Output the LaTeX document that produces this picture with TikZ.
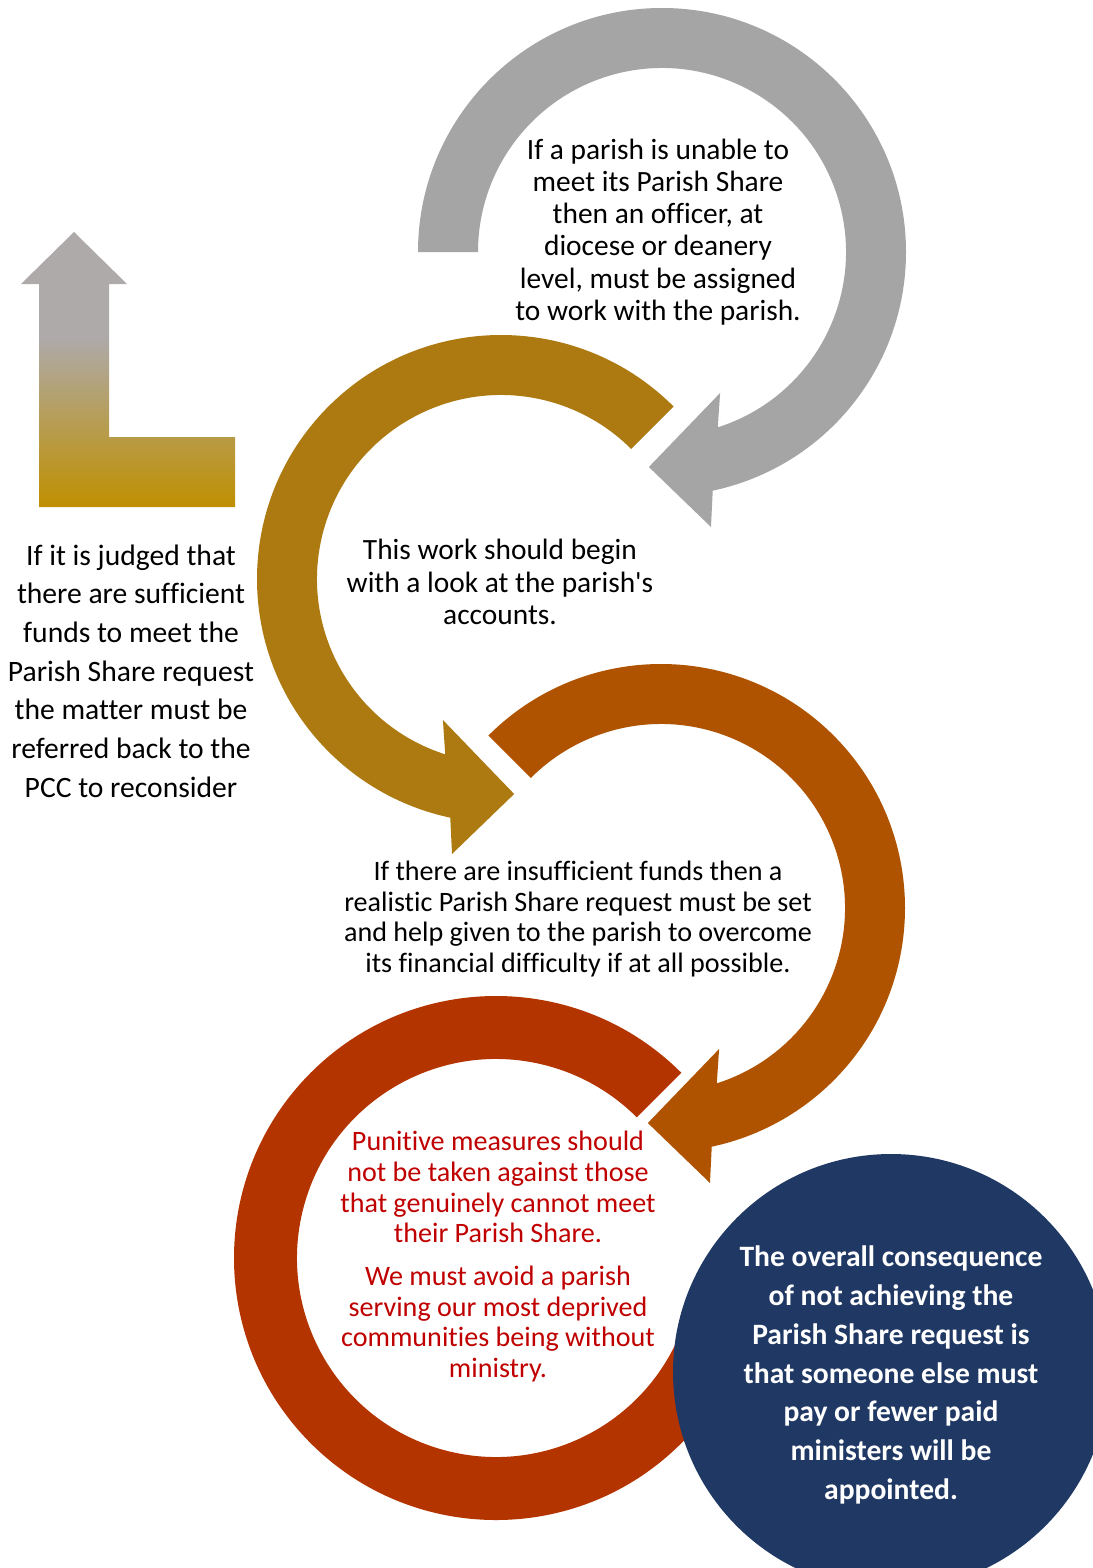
\documentclass[tikz,border=0pt]{standalone}
\usepackage{fontspec}
\setmainfont[Ligatures=NoCommon]{Carlito}
\usetikzlibrary{calc}
\definecolor{grayc}{RGB}{165,165,165}
\definecolor{goldc}{RGB}{173,122,17}
\definecolor{orangec}{RGB}{175,83,0}
\definecolor{redc}{RGB}{180,52,0}
\definecolor{bluec}{RGB}{32,56,100}
\definecolor{redtext}{RGB}{192,0,0}
\definecolor{lgray}{RGB}{174,170,170}
\definecolor{lgold}{RGB}{191,144,0}
\pgfdeclareverticalshading{lgrad}{100bp}{color(0bp)=(lgold); color(25bp)=(lgold); color(56bp)=(lgray); color(100bp)=(lgray)}
\begin{document}
\begin{tikzpicture}[x=0.5pt,y=-0.5pt,
  txt/.style={align=center, inner sep=0pt, text=black},
  fa/.style={font=\fontsize{14.7}{16.1}\selectfont},
  fb/.style={font=\fontsize{14.8}{19.35}\selectfont},
  fc/.style={font=\fontsize{14.05}{15.35}\selectfont},
  fd/.style={font=\fontsize{14.8}{19.35}\selectfont\bfseries}]
\fill[white] (0,0) rectangle (1092,1568);
\useasboundingbox (0,0) rectangle (1092,1568);
% centres
\coordinate (G) at (662,252);
\coordinate (D) at (501,579);
\coordinate (O) at (661,908);
\coordinate (Rc) at (496,1258);
% grey circular arrow
\fill[grayc] ($(G)+(180:244)$) arc[start angle=180, end angle=438, radius=244]
  -- ($(G)+(79.9:279.3)$) -- ($(G)+(93.5:215.4)$) -- ($(G)+(67.6:152.5)$)
  -- ($(G)+(72.35:184)$) arc[start angle=432.35, end angle=180, radius=184] -- cycle;
% gold circular arrow
\fill[goldc] ($(D)+(-45:244)$) arc[start angle=-45, end angle=-258, radius=244]
  -- ($(D)+(100.1:279.3)$) -- ($(D)+(86.5:215.4)$) -- ($(D)+(112.4:152.5)$)
  -- ($(D)+(107.65:184)$) arc[start angle=-252.35, end angle=-45, radius=184] -- cycle;
% orange circular arrow
\fill[orangec] ($(O)+(-135:244)$) arc[start angle=-135, end angle=78, radius=244]
  -- ($(O)+(79.9:279.3)$) -- ($(O)+(93.5:215.4)$) -- ($(O)+(67.6:152.5)$)
  -- ($(O)+(72.35:184)$) arc[start angle=72.35, end angle=-135, radius=184] -- cycle;
% red block arc (its far end lies under the blue circle)
\fill[redc] ($(Rc)+(-45:262)$) arc[start angle=-45, end angle=-345, radius=262]
  -- ($(Rc)+(15:199)$) arc[start angle=-345, end angle=-45, radius=199] -- cycle;
% blue circle
\fill[bluec] (891,1372) circle[radius=218];
% L arrow
\shade[shading=lgrad] (74,232) -- (127,284) -- (109,284) -- (109,437) -- (235,437)
  -- (235,507) -- (39,507) -- (39,284) -- (21,284) -- cycle;
% texts
\node[txt,fa] (t1) at (658,232) {If a parish is unable to\\meet its Parish Share\\then an officer, at\\diocese or deanery\\level, must be assigned\\to work with the parish.};
\node[txt,fb] (t2) at (131,671) {If it is judged that\\there are sufficient\\funds to meet the\\Parish Share request\\the matter must be\\referred back to the\\PCC to reconsider};
\node[txt,fa] (t3) at (500,582) {This work should begin\\with a look at the parish\textquotesingle s\\accounts.};
\node[txt,fc] (t4) at (578,919) {If there are insufficient funds then a\\realistic Parish Share request must be set\\and help given to the parish to overcome\\its financial difficulty if at all possible.};
\node[txt,fc,text=redtext] (t5) at (498,1187) {Punitive measures should\\not be taken against those\\that genuinely cannot meet\\their Parish Share.};
\node[txt,fc,text=redtext] (t6) at (498,1324) {We must avoid a parish\\serving our most deprived\\communities being without\\ministry.};
\node[txt,fd,text=white] (t7) at (891,1375) {The overall consequence\\of not achieving the\\Parish Share request is\\that someone else must\\pay or fewer paid\\ministers will be\\appointed.};
\end{tikzpicture}
\end{document}
